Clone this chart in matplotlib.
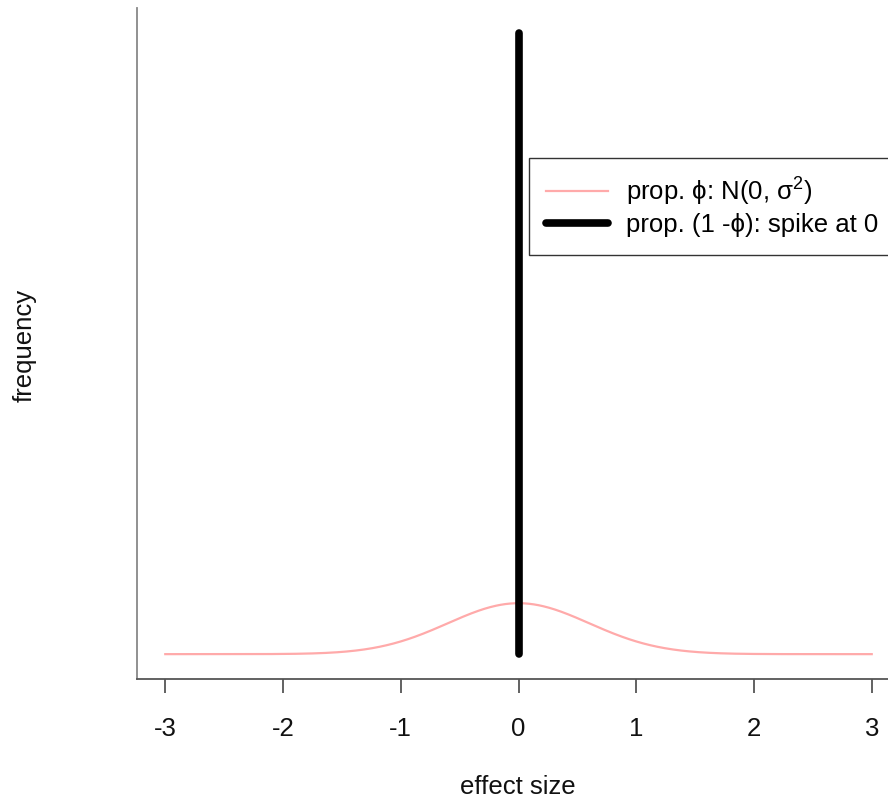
import numpy as np
import matplotlib
matplotlib.use("Agg")
import matplotlib.pyplot as plt

plt.rcParams['font.family'] = ['Liberation Sans', 'DejaVu Sans']
plt.rcParams['mathtext.fontset'] = 'custom'
plt.rcParams['mathtext.rm'] = 'Liberation Sans'

# data
x_ticks = [-3, -2, -1, 0, 1, 2, 3]
sigma = 0.6          # spread of the slab component
slab_peak = 0.082    # height of the normal curve relative to spike height
spike_x = 0.0
spike_height = 1.0
x_grid = np.linspace(-3, 3, 601)
slab_y = slab_peak * np.exp(-x_grid**2 / (2 * sigma**2))

FS = 18.5

fig = plt.figure(figsize=(8.88, 8.0), dpi=100)
ax = fig.add_axes([137/888, 1-679/800, 763/888, (679-8)/800])

ax.plot(x_grid, slab_y, color='#FFAAAA', lw=1.6, label='prop. ϕ: N(0, σ$\\mathregular{^2}$)')
ax.plot([spike_x, spike_x], [0, spike_height], color='black', lw=5.5,
        solid_capstyle='round', label='prop. (1 -ϕ): spike at 0')

ax.set_xlim(-3 - 0.24, 3 + 0.24)
ax.set_ylim(-0.04, 1.04)
ax.set_xticks(x_ticks)
ax.set_xticklabels([str(v) for v in x_ticks], fontsize=FS)
ax.set_yticks([])
for s in ['top', 'right']:
    ax.spines[s].set_visible(False)
ax.spines['left'].set_color('#888888')
ax.spines['bottom'].set_color('#555555')
ax.spines['left'].set_linewidth(1.3)
ax.spines['bottom'].set_linewidth(1.3)
ax.tick_params(axis='x', direction='out', length=10, width=1.3, color='#555555', pad=17, labelcolor='#111111')

fig.text(518/888, 1-787/800, 'effect size', ha='center', va='center', fontsize=FS, color='#111111')
fig.text(25/888, 1-345/800, 'frequency', ha='center', va='center', rotation=90, fontsize=FS, color='#111111')

leg = ax.legend(loc='upper left', bbox_to_anchor=(529/888, 1-158/800), bbox_transform=fig.transFigure,
                fontsize=FS, frameon=True, fancybox=False, borderpad=0.68, handlelength=2.4,
                labelspacing=0.22, handletextpad=0.7, borderaxespad=0)
leg.get_frame().set_edgecolor('black')
leg.get_frame().set_linewidth(1.0)

fig.savefig('out.png', dpi=100)
